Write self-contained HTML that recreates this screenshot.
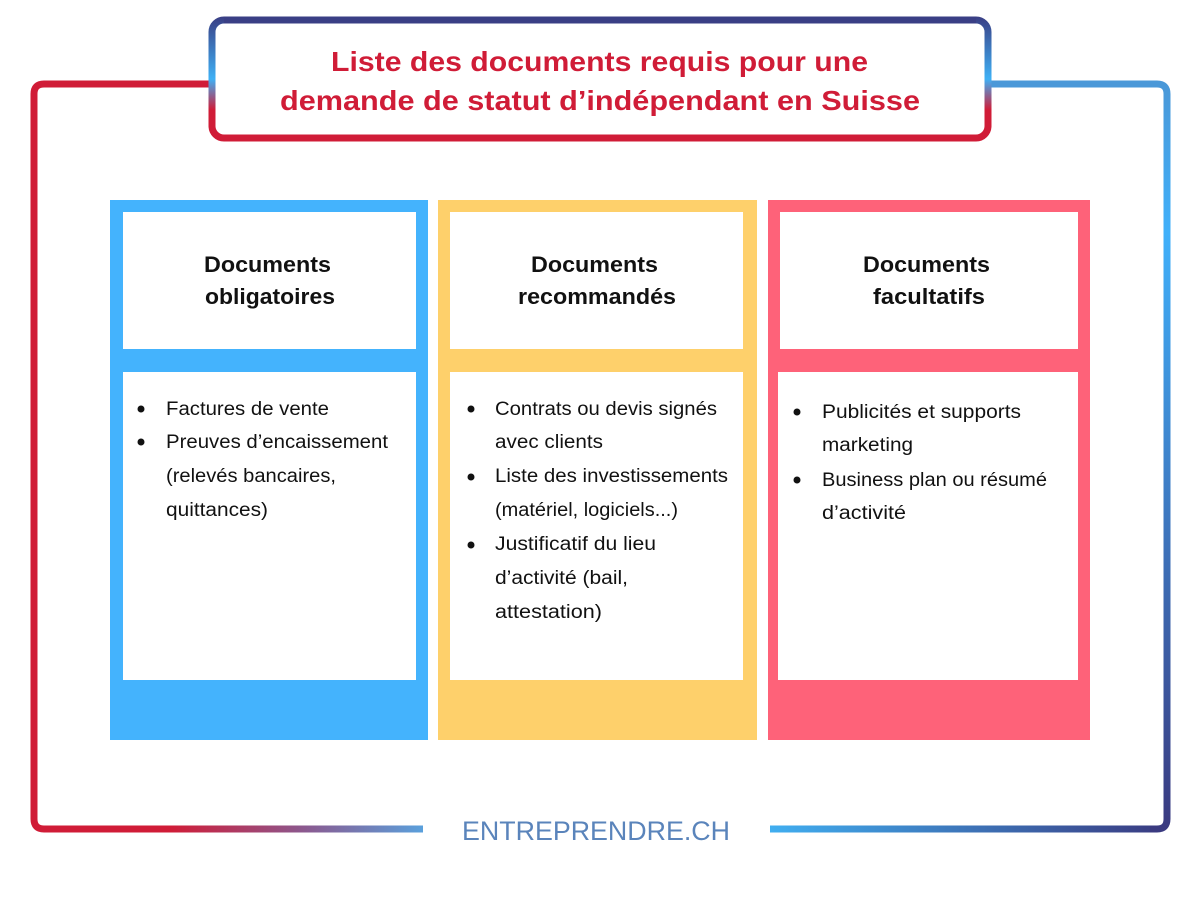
<!DOCTYPE html>
<html><head><meta charset="utf-8"><style>
html,body{margin:0;padding:0;background:#fff;width:1200px;height:900px;overflow:hidden}
svg{display:block}
.t{font-family:"Liberation Sans",sans-serif;font-size:19px;fill:#111}
.h{font-family:"Liberation Sans",sans-serif;font-size:22px;font-weight:bold;fill:#111}
.ti{font-family:"Liberation Sans",sans-serif;font-size:28px;font-weight:bold;fill:#d01c37}
</style></head><body>
<svg width="1200" height="900" viewBox="0 0 1200 900">
<defs>
<linearGradient id="side" x1="0" y1="17" x2="0" y2="141" gradientUnits="userSpaceOnUse">
<stop offset="0" stop-color="#3a3f85"/><stop offset="0.5" stop-color="#3eb0f5"/><stop offset="0.75" stop-color="#d01c37"/><stop offset="1" stop-color="#d01c37"/></linearGradient>
<linearGradient id="bl" x1="34" y1="0" x2="423" y2="0" gradientUnits="userSpaceOnUse">
<stop offset="0.35" stop-color="#d01c37"/><stop offset="0.7" stop-color="#8a5a90"/><stop offset="1" stop-color="#5aa0dc"/></linearGradient>
<linearGradient id="br" x1="770" y1="0" x2="1167" y2="0" gradientUnits="userSpaceOnUse">
<stop offset="0" stop-color="#40aef0"/><stop offset="1" stop-color="#3a3a80"/></linearGradient>
<linearGradient id="rv" x1="0" y1="84" x2="0" y2="829" gradientUnits="userSpaceOnUse">
<stop offset="0" stop-color="#4a98d8"/><stop offset="0.2" stop-color="#40b0fa"/><stop offset="1" stop-color="#3a3a80"/></linearGradient>
</defs>
<!-- outer frame -->
<path d="M212 84 H44 Q34 84 34 94 V819 Q34 829 44 829 H423" fill="none" stroke="#d01c37" stroke-width="7"/>
<path d="M50 829 H423" fill="none" stroke="url(#bl)" stroke-width="7"/>
<path d="M988 84 H1157 Q1167 84 1167 94 V819 Q1167 829 1157 829 H770" fill="none" stroke="url(#rv)" stroke-width="7"/>
<path d="M770 829 H1150" fill="none" stroke="url(#br)" stroke-width="7"/>
<text x="596" y="840" text-anchor="middle" font-family="Liberation Sans Narrow, Liberation Sans, sans-serif" font-size="27" fill="#5a84bb" textLength="268" lengthAdjust="spacingAndGlyphs">ENTREPRENDRE.CH</text>
<!-- title box -->
<rect x="212" y="20" width="776" height="118" rx="12" fill="#fff" stroke="url(#side)" stroke-width="7"/>
<path d="M224 20 H976" stroke="#3a3f85" stroke-width="7"/>
<path d="M224 138 H976" stroke="#d01c37" stroke-width="7"/>
<text class="ti" x="331" y="71" textLength="537" lengthAdjust="spacingAndGlyphs">Liste des documents requis pour une</text>
<text class="ti" x="280" y="110" textLength="640" lengthAdjust="spacingAndGlyphs">demande de statut d’indépendant en Suisse</text>
<!-- columns -->
<rect x="110" y="200" width="318" height="540" fill="#44b3fd"/>
<rect x="438" y="200" width="319" height="540" fill="#fed06b"/>
<rect x="768" y="200" width="322" height="540" fill="#fe6279"/>
<rect x="123" y="212" width="293" height="137" fill="#fff"/>
<rect x="123" y="372" width="293" height="308" fill="#fff"/>
<rect x="450" y="212" width="293" height="137" fill="#fff"/>
<rect x="450" y="372" width="293" height="308" fill="#fff"/>
<rect x="780" y="212" width="298" height="137" fill="#fff"/>
<rect x="778" y="372" width="300" height="308" fill="#fff"/>
<!-- headings -->
<text class="h" x="204" y="272" textLength="127" lengthAdjust="spacingAndGlyphs">Documents</text>
<text class="h" x="205" y="304" textLength="130" lengthAdjust="spacingAndGlyphs">obligatoires</text>
<text class="h" x="531" y="272" textLength="127" lengthAdjust="spacingAndGlyphs">Documents</text>
<text class="h" x="518" y="304" textLength="158" lengthAdjust="spacingAndGlyphs">recommandés</text>
<text class="h" x="863" y="272" textLength="127" lengthAdjust="spacingAndGlyphs">Documents</text>
<text class="h" x="873" y="304" textLength="112" lengthAdjust="spacingAndGlyphs">facultatifs</text>
<!-- bullets -->
<g fill="#111">
<circle cx="141" cy="409" r="3.5"/><circle cx="141" cy="442" r="3.5"/>
<circle cx="471" cy="409" r="3.5"/><circle cx="471" cy="477" r="3.5"/><circle cx="471" cy="545" r="3.5"/>
<circle cx="797" cy="412" r="3.5"/><circle cx="797" cy="480" r="3.5"/>
</g>
<text class="t" x="166" y="415" textLength="163" lengthAdjust="spacingAndGlyphs">Factures de vente</text>
<text class="t" x="166" y="448" textLength="222" lengthAdjust="spacingAndGlyphs">Preuves d’encaissement</text>
<text class="t" x="166" y="482" textLength="170" lengthAdjust="spacingAndGlyphs">(relevés bancaires,</text>
<text class="t" x="166" y="516" textLength="102" lengthAdjust="spacingAndGlyphs">quittances)</text>

<text class="t" x="495" y="415" textLength="222" lengthAdjust="spacingAndGlyphs">Contrats ou devis signés</text>
<text class="t" x="495" y="448" textLength="108" lengthAdjust="spacingAndGlyphs">avec clients</text>
<text class="t" x="495" y="482" textLength="233" lengthAdjust="spacingAndGlyphs">Liste des investissements</text>
<text class="t" x="495" y="516" textLength="183" lengthAdjust="spacingAndGlyphs">(matériel, logiciels...)</text>
<text class="t" x="495" y="550" textLength="161" lengthAdjust="spacingAndGlyphs">Justificatif du lieu</text>
<text class="t" x="495" y="584" textLength="133" lengthAdjust="spacingAndGlyphs">d’activité (bail,</text>
<text class="t" x="495" y="618" textLength="107" lengthAdjust="spacingAndGlyphs">attestation)</text>

<text class="t" x="822" y="418" textLength="199" lengthAdjust="spacingAndGlyphs">Publicités et supports</text>
<text class="t" x="822" y="451" textLength="91" lengthAdjust="spacingAndGlyphs">marketing</text>
<text class="t" x="822" y="486" textLength="225" lengthAdjust="spacingAndGlyphs">Business plan ou résumé</text>
<text class="t" x="822" y="519" textLength="84" lengthAdjust="spacingAndGlyphs">d’activité</text>
</svg>
</body></html>
